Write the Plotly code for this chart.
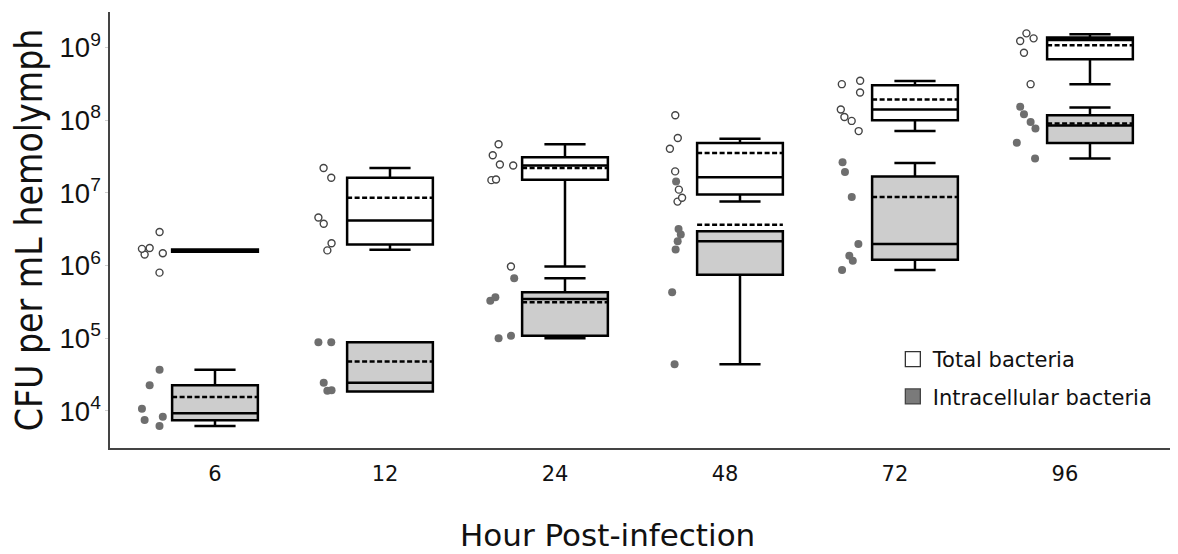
import numpy as np
import plotly.graph_objects as go

# ---------------- data ----------------
hours = ["6", "12", "24", "48", "72", "96"]

# box statistics, Total bacteria
total_q1 = [1.55e6, 1.95e6, 1.52e7, 9.5e6, 1.0e8, 6.9e8]
total_median = [1.6e6, 4.17e6, 2.39e7, 1.65e7, 1.41e8, 1.27e9]
total_q3 = [1.66e6, 1.62e7, 3.1e7, 4.86e7, 3.04e8, 1.38e9]
total_mean = [1.6e6, 8.6e6, 2.2e7, 3.54e7, 1.93e8, 1.08e9]
total_low = [1.55e6, 1.65e6, 9.7e5, 7.6e6, 7.1e7, 3.14e8]
total_high = [1.66e6, 2.2e7, 4.67e7, 5.58e7, 3.48e8, 1.53e9]

# box statistics, Intracellular bacteria
intra_q1 = [7.45e3, 1.85e4, 1.08e5, 7.5e5, 1.2e6, 4.86e7]
intra_median = [9.3e3, 2.45e4, 3.47e5, 2.16e6, 1.99e6, 8.5e7]
intra_q3 = [2.26e4, 8.8e4, 4.29e5, 2.97e6, 1.69e7, 1.17e8]
intra_mean = [1.56e4, 4.79e4, 3.12e5, 3.64e6, 8.8e6, 9.0e7]
intra_low = [6.2e3, 1.85e4, 1.0e5, 4.4e4, 8.7e5, 2.97e7]
intra_high = [3.68e4, 8.8e4, 6.7e5, 2.97e6, 2.58e7, 1.5e8]

# individual observations
total_points = {
    "6": [2.9e6, 1.7e6, 1.75e6, 1.42e6, 1.48e6, 8.0e5],
    "12": [2.2e7, 1.62e7, 4.6e6, 3.76e6, 2.03e6, 1.62e6],
    "24": [4.67e7, 3.3e7, 2.46e7, 2.39e7, 1.53e7, 1.5e7, 9.7e5],
    "48": [1.17e8, 5.7e7, 4.06e7, 1.98e7, 1.11e7, 8.6e6, 7.6e6],
    "72": [3.5e8, 3.14e8, 2.41e8, 1.41e8, 1.11e8, 9.8e7, 7.1e7],
    "96": [1.57e9, 1.34e9, 1.23e9, 8.5e8, 3.14e8],
}
intra_points = {
    "6": [3.68e4, 2.26e4, 1.07e4, 7.5e3, 8.3e3, 6.2e3],
    "12": [8.8e4, 8.8e4, 2.45e4, 1.9e4, 1.93e4],
    "24": [6.7e5, 3.66e5, 3.29e5, 1.0e5, 1.08e5],
    "48": [1.44e7, 3.2e6, 2.68e6, 2.16e6, 1.66e6, 4.3e5, 4.4e4],
    "72": [2.65e7, 1.94e7, 8.8e6, 1.99e6, 1.37e6, 1.17e6, 8.7e5],
    "96": [1.53e8, 1.21e8, 9.5e7, 7.7e7, 4.9e7, 2.97e7],
}

x_title = "Hour Post-infection"
y_title = "CFU per mL hemolymph"

# ---------------- style ----------------
BOX_W = 0.49
WHISK = 0.48
LABEL_STEP = 170 / 175  # tick labels sit on a slightly tighter spacing than boxes
TITLE_FONT = "DejaVu Sans Condensed"
XT_FONT = "DejaVu Sans"

pos = np.arange(len(hours))

fig = go.Figure()


def stat_box(q1, med, q3, mean, lo, hi, fill):
    return go.Box(
        x=pos, q1=q1, median=med, q3=q3, mean=mean,
        lowerfence=lo, upperfence=hi, boxmean=True, boxpoints=False,
        width=BOX_W, whiskerwidth=WHISK, fillcolor=fill,
        line=dict(color="black", width=2.5), showlegend=False,
        hoverinfo="skip",
    )


def point_box(pts, marker):
    xs, ys = [], []
    for i, h in enumerate(hours):
        xs += [pos[i]] * len(pts[h])
        ys += pts[h]
    return go.Box(
        x=xs, y=ys, boxpoints="all", jitter=0.3, pointpos=-1.45,
        width=BOX_W, fillcolor="rgba(0,0,0,0)",
        line=dict(width=0, color="rgba(0,0,0,0)"),
        marker=marker, showlegend=False, hoverinfo="skip",
    )


fig.add_trace(stat_box(total_q1, total_median, total_q3, total_mean,
                       total_low, total_high, "white"))
fig.add_trace(stat_box(intra_q1, intra_median, intra_q3, intra_mean,
                       intra_low, intra_high, "#cdcdcd"))
fig.add_trace(point_box(total_points, dict(color="white", size=7,
                                           line=dict(color="#444", width=1.4))))
fig.add_trace(point_box(intra_points, dict(color="#6e6e6e", size=8,
                                           line=dict(width=0))))

# legend entries
fig.add_trace(go.Scatter(x=[None], y=[None], mode="markers", name="Total bacteria",
                         legendgroup="a",
                         marker=dict(symbol="square", size=15, color="white",
                                     line=dict(color="#333", width=1.3))))
fig.add_trace(go.Scatter(x=[None], y=[None], mode="markers", name="Intracellular bacteria",
                         legendgroup="b",
                         marker=dict(symbol="square", size=15, color="#7a7a7a",
                                     line=dict(color="#444", width=1.3))))

# x-axis title (sits slightly left of the plot centre in the original)
fig.add_annotation(text=x_title, xref="paper", yref="paper",
                   x=0.466, y=-0.2, xanchor="center", yanchor="middle",
                   showarrow=False,
                   font=dict(family=XT_FONT, size=31, color="#111"))

# the page adds an 8px body margin, so the figure is sized to fit the window
fig.update_layout(
    width=1170, height=546,
    margin=dict(l=102, r=0, t=4, b=106),
    paper_bgcolor="white", plot_bgcolor="white",
    boxmode="overlay",
    showlegend=True,
    legend=dict(x=0.733, y=0.25, xanchor="left", yanchor="top",
                traceorder="grouped", tracegroupgap=7,
                font=dict(family=XT_FONT, size=21, color="#111"),
                bgcolor="rgba(0,0,0,0)"),
    xaxis=dict(
        range=[-0.6, 5.503], automargin=False,
        tickmode="array", tickvals=[i * LABEL_STEP for i in pos], ticktext=hours,
        showline=True, linecolor="#444", linewidth=1.5,
        ticks="", showgrid=False, zeroline=False,
        tickfont=dict(family=XT_FONT, size=21, color="#111"),
        ticklabelstandoff=6,
    ),
    yaxis=dict(
        type="log", range=[3.49, 9.49], dtick=1, automargin=False,
        exponentformat="power", showexponent="all",
        showline=True, linecolor="#444", linewidth=1.5,
        ticks="outside", ticklen=3, tickcolor="#d0d0d0",
        showgrid=False, zeroline=False,
        tickfont=dict(family="Liberation Sans", size=22, color="#111"),
        title=dict(text=y_title, standoff=12,
                   font=dict(family=TITLE_FONT, size=37, color="#111")),
    ),
)

fig.write_html("out.html")
